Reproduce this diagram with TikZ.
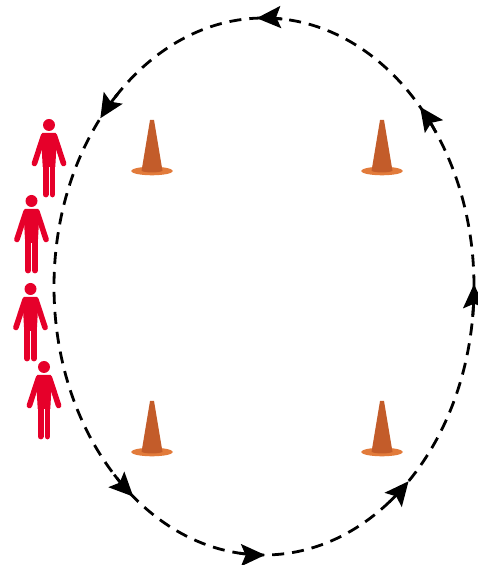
\documentclass[tikz,border=0pt]{standalone}
\usetikzlibrary{arrows.meta}
\definecolor{personred}{HTML}{E6002A}
\definecolor{conebody}{HTML}{C35C2A}
\definecolor{conebrim}{HTML}{E27B3B}
\tikzset{
  % the dashed track
  track/.style={black, line width=2.8pt, dash pattern=on 12pt off 8pt},
  tracktip/.style={black, line width=2.8pt, -{Stealth[length=24pt,width=22pt,inset=4.5pt]}},
  % a cone, origin in the middle of the brim
  cone/.pic={
    \fill[conebrim] (0,0) ellipse (20.8pt and 4.3pt);
    \fill[conebody] (-2,51) -- (2,51) -- (10.5,0) .. controls (5,-2) and (-5,-2) .. (-10.5,0) -- cycle;
  },
  % a person, origin in the middle of the head
  person/.pic={
    \fill[personred] (0,0) circle (6pt);
    \fill[personred] (-6.5,-8) -- (6.5,-8) -- (8,-10) -- (6.3,-42) -- (-6.3,-42) -- (-8,-10) -- cycle;
    \draw[personred, line width=5.6pt, line cap=round] (-5.5,-11) -- (-14.6,-38.5);
    \draw[personred, line width=5.6pt, line cap=round] (5.5,-11) -- (14.6,-38.5);
    \draw[personred, line width=5.8pt, line cap=round] (-3.4,-38) -- (-3.4,-69.5);
    \draw[personred, line width=5.8pt, line cap=round] (3.4,-38) -- (3.4,-69.5);
  }
}
\begin{document}
\begin{tikzpicture}[x=1pt,y=1pt]
\useasboundingbox (0,0) rectangle (477,565);
% Cones
\foreach \px/\py in {152/394, 382/394, 152/113, 382/113}
  \pic at (\px,\py) {cone};
% People
\foreach \px/\py in {49/440, 31.5/364, 30.5/276, 44/198}
  \pic at (\px,\py) {person};
% Track
\coordinate (centre) at (264,278.5);
\draw[track] (centre) ellipse (210pt and 268.5pt);
\foreach \ang in {0.5, 42, 92, 141.2, 231.5, 270.3, 313.5}
  \draw[tracktip] (centre) ++(\ang-7:210pt and 268.5pt) arc (\ang-7:\ang:210pt and 268.5pt);
\end{tikzpicture}
\end{document}
